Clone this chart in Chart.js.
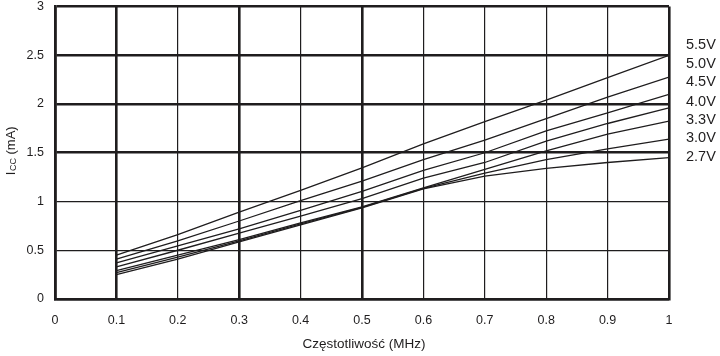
<!DOCTYPE html>
<html>
<head>
<meta charset="utf-8">
<script src="https://cdn.jsdelivr.net/npm/chart.js@4/dist/chart.umd.min.js"></script>
<style>
html,body{margin:0;padding:0;background:#fff;}
#wrap{width:720px;height:356px;position:relative;}
</style>
</head>
<body>
<div id="wrap"><canvas id="c" width="720" height="356"></canvas></div>
<script>
// Frequency (MHz)
const freq = [0.1, 0.2, 0.3, 0.4, 0.5, 0.6, 0.7, 0.8, 0.9, 1.0];
// Supply current Icc (mA) per supply voltage
const v55 = [0.45, 0.66, 0.89, 1.115, 1.345, 1.59, 1.82, 2.04, 2.27, 2.50];
const v50 = [0.41, 0.595, 0.80, 1.01, 1.21, 1.43, 1.63, 1.85, 2.07, 2.275];
const v45 = [0.37, 0.545, 0.72, 0.91, 1.105, 1.32, 1.50, 1.725, 1.91, 2.10];
const v40 = [0.33, 0.50, 0.675, 0.85, 1.03, 1.24, 1.40, 1.62, 1.80, 1.96];
const v33 = [0.29, 0.45, 0.61, 0.78, 0.945, 1.14, 1.33, 1.52, 1.69, 1.825];
const v30 = [0.27, 0.43, 0.595, 0.77, 0.94, 1.135, 1.29, 1.43, 1.54, 1.64];
const v27 = [0.25, 0.41, 0.585, 0.76, 0.935, 1.13, 1.26, 1.34, 1.40, 1.45];
const seriesLabels = ['5.5V', '5.0V', '4.5V', '4.0V', '3.3V', '3.0V', '2.7V'];
const seriesValues = [v55, v50, v45, v40, v33, v30, v27];
const xTicks = [0, 0.1, 0.2, 0.3, 0.4, 0.5, 0.6, 0.7, 0.8, 0.9, 1];
const yTicks = [0, 0.5, 1, 1.5, 2, 2.5, 3];
const xTitle = 'Częstotliwość (MHz)';

const INK = '#1f1d1e';
const FONT = '"Liberation Sans", Arial, Helvetica, sans-serif';
const thickX = [0, 0.1, 0.3, 0.5, 1];
const thickY = [0, 1.5, 2, 2.5, 3];
const near = (arr, v) => arr.some(a => Math.abs(a - v) < 1e-6);

const datasets = seriesValues.map((vals, i) => ({
  label: seriesLabels[i],
  data: freq.map((f, j) => ({x: f, y: vals[j]})),
  borderColor: INK,
  borderWidth: 1.3,
  pointRadius: 0,
  fill: false,
  tension: 0
}));

// legend label y-positions in pixels (layout only)
const labelY = [45, 64, 82, 101.5, 119.5, 137.5, 156.5];

const decor = {
  id: 'decor',
  afterDraw(chart) {
    const ctx = chart.ctx;
    const a = chart.chartArea;
    ctx.save();
    ctx.fillStyle = INK;
    // series labels on the right
    ctx.font = '14.5px ' + FONT;
    ctx.textAlign = 'left';
    ctx.textBaseline = 'middle';
    seriesLabels.forEach((t, i) => ctx.fillText(t, 686, labelY[i]));
    // x title
    ctx.font = '13.5px ' + FONT;
    ctx.textAlign = 'center';
    ctx.fillText(xTitle, 364, 344);
    // y title with subscript
    ctx.translate(11, 151);
    ctx.rotate(-Math.PI / 2);
    const big = '13px ' + FONT, small = '9px ' + FONT;
    ctx.font = big; const wI = ctx.measureText('I').width;
    ctx.font = small; const wC = ctx.measureText('CC').width;
    ctx.font = big; const wR = ctx.measureText(' (mA)').width;
    let x0 = -(wI + wC + wR) / 2;
    ctx.textAlign = 'left';
    ctx.font = big; ctx.fillText('I', x0, 0);
    ctx.font = small; ctx.fillText('CC', x0 + wI + 0.5, 3);
    ctx.font = big; ctx.fillText(' (mA)', x0 + wI + wC + 0.5, 0);
    ctx.restore();
  }
};

new Chart(document.getElementById('c'), {
  type: 'line',
  data: {datasets},
  options: {
    responsive: false,
    animation: false,
    events: [],
    layout: {padding: {top: 6.5, right: 51, left: 0, bottom: 0}},
    plugins: {legend: {display: false}, tooltip: {enabled: false}},
    scales: {
      x: {
        type: 'linear', min: 0, max: 1,
        afterBuildTicks: s => { s.ticks = xTicks.map(v => ({value: v})); },
        afterFit: s => { s.height = 57; s.paddingLeft = 0; s.paddingRight = 0; },
        ticks: {
          color: INK, padding: 14, maxRotation: 0, autoSkip: false,
          font: {family: FONT, size: 12.5},
          callback: v => String(Math.round(v * 10) / 10)
        },
        grid: {
          color: INK, drawTicks: false,
          lineWidth: c => near(thickX, c.tick.value) ? 2.6 : 1.2
        },
        border: {display: true, color: INK, width: 2.6}
      },
      y: {
        type: 'linear', min: 0, max: 3,
        afterBuildTicks: s => { s.ticks = yTicks.map(v => ({value: v})); },
        afterFit: s => { s.width = 55; s.paddingTop = 0; s.paddingBottom = 0; },
        ticks: {
          color: INK, padding: 11, autoSkip: false,
          font: {family: FONT, size: 12.5},
          callback: v => String(Math.round(v * 10) / 10)
        },
        grid: {
          color: INK, drawTicks: false,
          lineWidth: c => near(thickY, c.tick.value) ? 2.6 : 1.2
        },
        border: {display: true, color: INK, width: 2.6}
      }
    }
  },
  plugins: [decor]
});
</script>
</body>
</html>
